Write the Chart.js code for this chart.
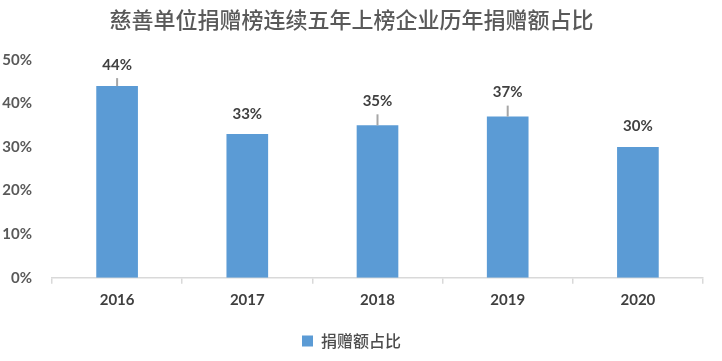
<!DOCTYPE html>
<html>
<head>
<meta charset="utf-8">
<script src="https://cdn.jsdelivr.net/npm/chart.js@4"></script>
<style>
  html, body { margin: 0; padding: 0; background: #ffffff; }
  #wrap { width: 722px; height: 361px; }
</style>
</head>
<body>
<div id="wrap"><canvas id="c" width="722" height="361"></canvas></div>
<script>
const titleText = '慈善单位捐赠榜连续五年上榜企业历年捐赠额占比';
const seriesName = '捐赠额占比';
const categories = ['2016', '2017', '2018', '2019', '2020'];
const values = [0.44, 0.33, 0.35, 0.37, 0.30];
const yTicks = [0, 0.1, 0.2, 0.3, 0.4, 0.5];

const labelPlugin = {
  id: 'barLabels',
  afterDatasetsDraw(chart, args, opts) {
    const ctx = chart.ctx;
    const meta = chart.getDatasetMeta(0);
    ctx.save();
    meta.data.forEach((bar, i) => {
      const lift = opts.lift[i];
      const cy = bar.y - lift;
      if (opts.leader[i]) {
        ctx.strokeStyle = '#a6a6a6';
        ctx.lineWidth = 2;
        ctx.beginPath();
        ctx.moveTo(bar.x, bar.y);
        ctx.lineTo(bar.x, cy + 13);
        ctx.stroke();
      }
      ctx.fillStyle = '#404040';
      ctx.font = 'bold 15px Lato';
      ctx.textAlign = 'center';
      ctx.textBaseline = 'middle';
      ctx.fillText(Math.round(values[i] * 100) + '%', bar.x, cy);
    });
    ctx.restore();
  }
};

new Chart(document.getElementById('c'), {
  type: 'bar',
  data: {
    labels: categories,
    datasets: [{
      label: seriesName,
      data: values,
      backgroundColor: '#5b9bd5',
      borderWidth: 0,
      categoryPercentage: 1,
      barPercentage: 0.32
    }]
  },
  options: {
    responsive: false,
    animation: false,
    devicePixelRatio: 1,
    layout: { padding: { left: 0, right: 19, top: 0, bottom: 2 } },
    plugins: {
      title: {
        display: true,
        text: titleText,
        color: '#595959',
        font: { family: '"Noto Sans CJK SC"', size: 22, weight: '500', lineHeight: 1.2 },
        padding: { top: 6, bottom: 27.6 }
      },
      legend: {
        display: true,
        position: 'bottom',
        labels: {
          boxWidth: 11,
          boxHeight: 11,
          color: '#4d4d4d',
          font: { family: '"Noto Sans CJK SC"', size: 16, weight: '500' },
          padding: 10
        }
      },
      tooltip: { enabled: false },
      barLabels: {
        lift: [21, 20, 24, 24, 21],
        leader: [true, false, true, true, false]
      }
    },
    scales: {
      x: {
        grid: {
          display: true,
          drawOnChartArea: false,
          offset: true,
          tickLength: 6,
          color: '#d9d9d9',
          lineWidth: 1.5
        },
        border: { display: true, color: '#d9d9d9', width: 1.5 },
        ticks: {
          color: '#404040',
          font: { family: 'Lato', size: 15, weight: 'bold' },
          padding: 7
        },
        afterFit(scale) { scale.height = 45.3; }
      },
      y: {
        min: 0,
        max: 0.5,
        grid: { display: false },
        border: { display: false },
        afterBuildTicks(scale) { scale.ticks = yTicks.map(v => ({ value: v })); },
        ticks: {
          color: '#595959',
          font: { family: 'Lato', size: 15, weight: 'bold' },
          padding: 12,
          callback: (v) => Math.round(v * 100) + '%'
        },
        afterFit(scale) { scale.width = 52; }
      }
    }
  },
  plugins: [labelPlugin]
});
</script>
</body>
</html>
